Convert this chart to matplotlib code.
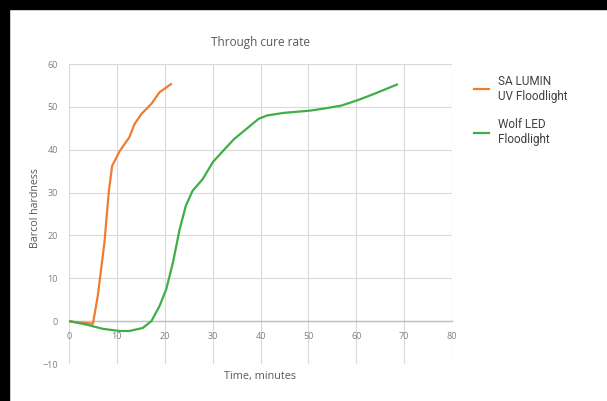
import matplotlib.pyplot as plt
from matplotlib.patches import Rectangle

# Data
lumin_time = [0, 2, 5, 6, 7.4, 8.3, 9, 10.6, 12.6, 13.7, 15.1, 17.2, 18.9, 21.3]
lumin_hard = [0, -0.3, -0.6, 5.8, 18.3, 30, 36.2, 39.7, 42.9, 46, 48.3, 50.7, 53.4, 55.3]

wolf_time = [0, 3.6, 7.1, 10.6, 12.6, 15.4, 17.2, 18.9, 20.3, 21.7, 23.1, 24.4, 25.8,
             27.9, 30.1, 34.4, 39.6, 41.4, 44.9, 50.2, 52.7, 56.9, 60.4, 63.9, 68.5]
wolf_hard = [0, -0.8, -1.8, -2.3, -2.3, -1.6, 0, 3.5, 7.4, 13.6, 21.4, 26.9, 30.4,
             33.1, 37.2, 42.4, 47.2, 48.0, 48.6, 49.1, 49.5, 50.3, 51.6, 53.1, 55.2]

x_ticks = [0, 10, 20, 30, 40, 50, 60, 70, 80]
y_ticks = [-10, 0, 10, 20, 30, 40, 50, 60]

plt.rcParams['font.family'] = ['Open Sans', 'DejaVu Sans']

fig = plt.figure(figsize=(6.07, 4.01), dpi=100)
fig.patch.set_facecolor('white')
# black strips at the top and left of the screenshot
fig.patches.append(Rectangle((0, 1 - 9 / 401), 1, 9 / 401, transform=fig.transFigure,
                             color='black', zorder=0))
fig.patches.append(Rectangle((0, 0), 9 / 607, 1, transform=fig.transFigure,
                             color='black', zorder=0))

ax = fig.add_axes([69 / 607, 1 - 364 / 401, 383 / 607, 300 / 401])
ax.plot(lumin_time, lumin_hard, color='#ed7d31', lw=1.6, label='SA LUMIN\nUV Floodlight',
        zorder=3)
ax.plot(wolf_time, wolf_hard, color='#3fae49', lw=1.6, label='Wolf LED\nFloodlight',
        zorder=3)

ax.set_xlim(0, 80)
ax.set_ylim(-10, 60)
ax.set_xticks(x_ticks)
ax.set_yticks(y_ticks)
ax.grid(True, color='#d9d9d9', lw=0.8)
ax.set_axisbelow(True)
for s in ['top', 'left', 'right']:
    ax.spines[s].set_visible(False)
ax.spines['bottom'].set_position(('data', 0))
ax.spines['bottom'].set_color('#bfbfbf')
ax.spines['bottom'].set_linewidth(1.0)
ax.tick_params(length=0, labelsize=6.5, labelcolor='#7f7f7f')
ax.tick_params(axis='y', pad=8)
ax.tick_params(axis='x', pad=8)

ax.set_title('Through cure rate', fontsize=8.5, color='#595959', pad=13)
ax.set_xlabel('Time, minutes', fontsize=7.8, color='#595959')
ax.xaxis.set_label_coords(0.5, -0.022)
ax.set_ylabel('Barcol hardness', fontsize=7.7, color='#595959')
ax.yaxis.set_label_coords(-0.072, 0.52)

fig.legend(loc='upper left', bbox_to_anchor=(463 / 607, 1 - 64 / 401), frameon=False,
           prop={'family': 'Roboto', 'size': 8.5}, labelcolor='#404040',
           handlelength=1.3, handletextpad=0.8, labelspacing=1.3)

fig.savefig('out.png', dpi=100)
